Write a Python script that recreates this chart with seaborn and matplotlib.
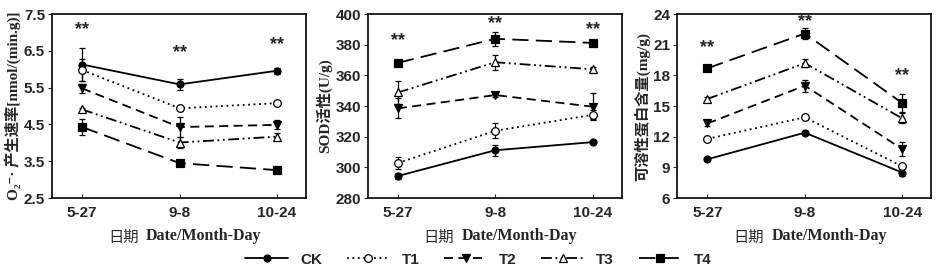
import matplotlib
matplotlib.use('Agg')
import matplotlib.pyplot as plt
import pandas as pd
import seaborn as sns

dates = ['5-27', '9-8', '10-24']
groups = ['CK', 'T1', 'T2', 'T3', 'T4']

# O2- production rate
o2_mean = {'CK': [6.13, 5.59, 5.96], 'T1': [5.98, 4.94, 5.08], 'T2': [5.48, 4.43, 4.49],
           'T3': [4.91, 4.01, 4.17], 'T4': [4.43, 3.45, 3.26]}
o2_err = {'CK': [0.45, 0.15, 0.08], 'T1': [0.30, 0.06, 0.05], 'T2': [0.12, 0.27, 0.12],
          'T3': [0.05, 0.15, 0.10], 'T4': [0.22, 0.05, 0.03]}
o2_stars = [7.08, 6.45, 6.66]

# SOD activity
sod_mean = {'CK': [294.4, 311.2, 316.5], 'T1': [302.9, 323.9, 334.3], 'T2': [338.5, 347.2, 339.6],
            'T3': [348.9, 368.6, 364.0], 'T4': [368.2, 383.9, 381.2]}
sod_err = {'CK': [2.0, 3.7, 1.5], 'T1': [4.0, 5.0, 3.0], 'T2': [6.5, 1.0, 8.7],
           'T3': [7.5, 5.0, 1.5], 'T4': [1.0, 4.5, 1.0]}
sod_stars = [382.5, 393.7, 389.7]

# soluble protein
prot_mean = {'CK': [9.8, 12.4, 8.5], 'T1': [11.8, 13.9, 9.1], 'T2': [13.3, 17.0, 10.8],
             'T3': [15.7, 19.2, 13.8], 'T4': [18.7, 22.1, 15.3]}
prot_err = {'CK': [0.15, 0.15, 0.3], 'T1': [0.15, 0.15, 0.15], 'T2': [0.2, 0.6, 0.7],
            'T3': [0.2, 0.4, 0.5], 'T4': [0.15, 0.5, 0.9]}
prot_stars = [20.7, 23.25, 17.95]

sns.set_style('ticks')
plt.rcParams['font.family'] = ['Liberation Sans', 'Noto Sans CJK SC', 'DejaVu Sans']

markers = {'CK': 'o', 'T1': 'o', 'T2': 'v', 'T3': '^', 'T4': 's'}
faces = {'CK': 'black', 'T1': 'white', 'T2': 'black', 'T3': 'white', 'T4': 'black'}
msizes = {'CK': 5, 'T1': 5.5, 'T2': 6, 'T3': 6, 'T4': 5.5}
dashes = {'CK': '', 'T1': (1, 2), 'T2': (5, 3), 'T3': (6, 2, 1, 2, 1, 2), 'T4': (9, 4)}

panels = [
    (o2_mean, o2_err, o2_stars, (2.5, 7.5), [2.5, 3.5, 4.5, 5.5, 6.5, 7.5], '{:.1f}',
     'O₂⁻· 产生速率[nmol/(min.g)]'),
    (sod_mean, sod_err, sod_stars, (280, 400), list(range(280, 401, 20)), '{:d}',
     'SOD活性(U/g)'),
    (prot_mean, prot_err, prot_stars, (6, 24), list(range(6, 25, 3)), '{:d}',
     '可溶性蛋白含量(mg/g)'),
]

fig = plt.figure(figsize=(9.38, 2.71), dpi=100)
lefts = [0.0554, 0.392, 0.722]
label_family = ['Liberation Serif', 'Noto Sans CJK SC', 'DejaVu Sans']

handles = []
for i, (means, errs, stars, ylim, yticks, fmt, ylabel) in enumerate(panels):
    ax = fig.add_axes([lefts[i], 0.269, 0.271, 0.679])
    rows = []
    for g in groups:
        for j, d in enumerate(dates):
            rows.append({'Date': j, 'Group': g, 'Value': means[g][j]})
    df = pd.DataFrame(rows)
    for g in groups:
        sub = df[df['Group'] == g]
        sns.lineplot(data=sub, x='Date', y='Value', ax=ax, color='black', lw=1.3,
                     marker=markers[g], markersize=msizes[g], markerfacecolor=faces[g],
                     markeredgecolor='black', markeredgewidth=0.9, dashes=False,
                     label=g, zorder=3)
        line = ax.lines[-1]
        if dashes[g]:
            line.set_dashes(dashes[g])
        ax.errorbar(range(len(dates)), means[g], yerr=errs[g], fmt='none',
                    ecolor='black', elinewidth=0.9, capsize=2.5, capthick=0.9, zorder=2)
    if i == 0:
        handles = [l for l in ax.lines if l.get_label() in groups]
    ax.get_legend().remove()

    for j in range(len(dates)):
        ax.text(j, stars[j], '**', ha='center', va='center', fontsize=13,
                fontweight='bold')

    ax.set_xlim(-0.31, 2.3)
    ax.set_ylim(*ylim)
    ax.set_xticks(range(len(dates)))
    ax.set_xticklabels(dates, fontsize=11, fontweight='bold')
    ax.set_yticks(yticks)
    ax.set_yticklabels([fmt.format(t) for t in yticks], fontsize=11, fontweight='bold')
    ax.tick_params(axis='x', direction='in', length=3, pad=6)
    ax.tick_params(axis='y', direction='out', length=3, pad=2)
    for s in ax.spines.values():
        s.set_visible(True)
        s.set_linewidth(1.2)
        s.set_color('black')
    ax.set_xlabel('')
    ax.set_ylabel(ylabel, fontsize=11, fontweight='bold', family=label_family, labelpad=2)

    ax.text(0.34, -0.165, '日期', transform=ax.transAxes, ha='right', va='top',
            fontsize=11, family=['Noto Sans CJK SC'])
    ax.text(0.37, -0.165, 'Date/Month-Day', transform=ax.transAxes, ha='left', va='top',
            fontsize=11.5, fontweight='bold', family=['Liberation Serif'])

fig.legend(handles, groups, loc='lower center', bbox_to_anchor=(0.51, -0.035), ncol=5,
           frameon=False, handlelength=2.8, columnspacing=1.6, handletextpad=0.8,
           prop={'weight': 'bold', 'size': 11})

fig.savefig('out.png', dpi=100)
